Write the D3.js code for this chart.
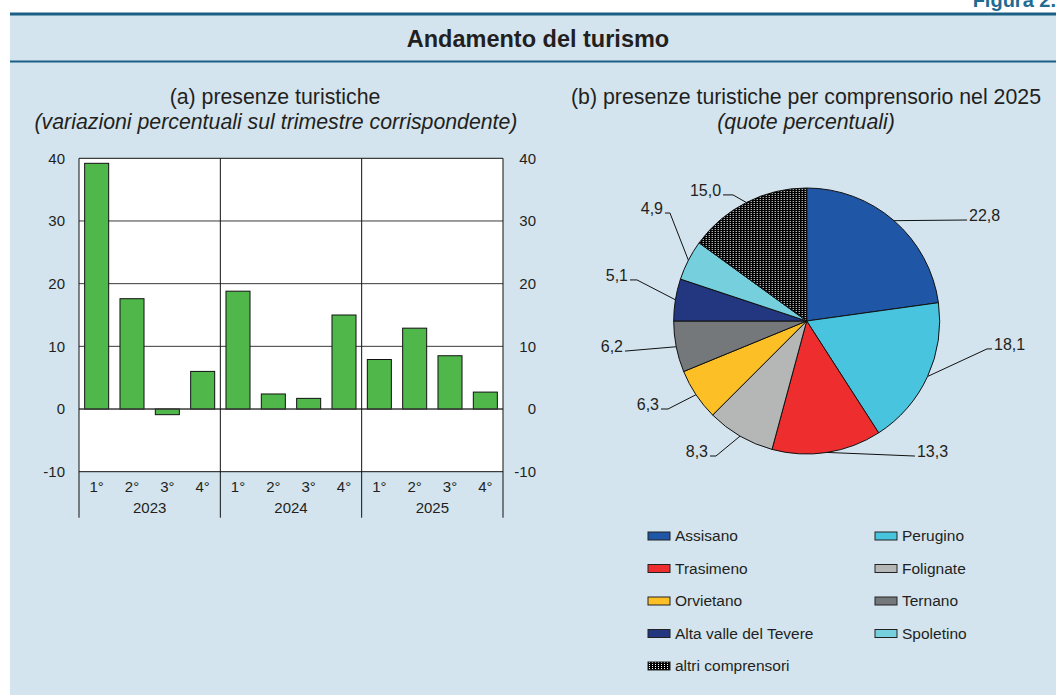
<!DOCTYPE html>
<html><head><meta charset="utf-8">
<script src="https://cdn.jsdelivr.net/npm/d3@7/dist/d3.min.js"></script>
<style>
html,body{margin:0;padding:0;background:#fff;}
svg{display:block;font-family:"Liberation Sans",Arial,sans-serif;}
</style></head>
<body><svg id="c" width="1056" height="695"></svg>
<script>
// ---------- data ----------
const quarters = ["1°","2°","3°","4°","1°","2°","3°","4°","1°","2°","3°","4°"];
const years = ["2023","2024","2025"];
const presenze = [39.2, 17.6, -0.9, 6.0, 18.8, 2.4, 1.7, 15.0, 7.9, 12.9, 8.5, 2.7];
const yTicks = [-10, 0, 10, 20, 30, 40];

const comprensori = ["Assisano","Perugino","Trasimeno","Folignate","Orvietano","Ternano","Alta valle del Tevere","Spoletino","altri comprensori"];
const quote = [22.8, 18.1, 13.3, 8.3, 6.3, 6.2, 5.1, 4.9, 15.0];
const quoteLabels = ["22,8","18,1","13,3","8,3","6,3","6,2","5,1","4,9","15,0"];
const sliceColors = ["#1f56a5","#48c4df","#ee2e2e","#b5b7b6","#fdbf26","#75787a","#233680","#76cfdc","url(#dots)"];
// label layout: [angle (deg, clockwise from top), radius factor, tail length]
const labelLayout = [[57.8,1.425,0],[98.8,1.372,5],[141.3,1.301,0],[213.9,1.223,6],[237.6,1.235,7],[260.6,1.385,0],[283.6,1.313,7],[308.3,1.31,5],[329.7,1.098,10]];
// legend order (indices into comprensori), two columns
const legendOrder = [0,1,2,3,4,5,6,7,8];

const svg = d3.select("#c");
const ink = "#231f20";

// ---------- panel ----------
svg.append("rect").attr("x",10).attr("y",13).attr("width",1046).attr("height",682).attr("fill","#d3e4ee");
svg.append("line").attr("x1",10).attr("x2",1056).attr("y1",14).attr("y2",14).attr("stroke","#1b5f85").attr("stroke-width",3);
svg.append("line").attr("x1",10).attr("x2",1056).attr("y1",61.5).attr("y2",61.5).attr("stroke","#1b5f85").attr("stroke-width",2);
svg.append("text").attr("x",1056).attr("y",7).attr("text-anchor","end").attr("font-size",20).attr("font-weight","bold").attr("fill","#1f6b92").text("Figura 2.");
svg.append("text").attr("x",538).attr("y",47).attr("text-anchor","middle").attr("font-size",23.5).attr("font-weight","bold").attr("fill",ink).text("Andamento del turismo");

// ---------- bar chart ----------
const L = 79, R = 503, T = 158.3, B = 471.7, axisBottom = 517.7;
const y = d3.scaleLinear().domain([-10,40]).range([B,T]);
const x = d3.scaleBand().domain(d3.range(quarters.length)).range([L,R]).paddingInner(0.32).paddingOuter(0.16);
const step = x.step();

svg.append("text").attr("x",275).attr("y",104).attr("text-anchor","middle").attr("font-size",21.3).attr("fill",ink).text("(a) presenze turistiche");
svg.append("text").attr("x",276).attr("y",129).attr("text-anchor","middle").attr("font-size",21.3).attr("font-style","italic").attr("fill",ink).text("(variazioni percentuali sul trimestre corrispondente)");

const g = svg.append("g");
g.append("rect").attr("x",L).attr("y",T).attr("width",R-L).attr("height",B-T).attr("fill","#fff");
// gridlines
g.selectAll("line.grid").data(yTicks.filter(d=>d>-10 && d<40)).join("line")
  .attr("x1",L).attr("x2",R).attr("y1",d=>y(d)).attr("y2",d=>y(d))
  .attr("stroke","#3a3a3a").attr("stroke-width",1);
// bars
g.selectAll("rect.bar").data(presenze).join("rect")
  .attr("x",(d,i)=>x(i)).attr("width",x.bandwidth())
  .attr("y",d=>y(Math.max(0,d))).attr("height",d=>Math.abs(y(d)-y(0)))
  .attr("fill","#50b84a").attr("stroke","#111").attr("stroke-width",1);
// zero line on top
g.append("line").attr("x1",L).attr("x2",R).attr("y1",y(0)).attr("y2",y(0)).attr("stroke","#3a3a3a").attr("stroke-width",1);
// borders
g.append("line").attr("x1",L).attr("x2",R).attr("y1",T).attr("y2",T).attr("stroke","#111");
g.append("line").attr("x1",L).attr("x2",R).attr("y1",B).attr("y2",B).attr("stroke","#111");
// vertical lines (year separators and edges)
g.selectAll("line.v").data(d3.range(years.length+1)).join("line")
  .attr("x1",d=>L+d*4*step).attr("x2",d=>L+d*4*step).attr("y1",T).attr("y2",axisBottom)
  .attr("stroke","#111").attr("stroke-width",1);
// y tick labels
g.selectAll("text.yl").data(yTicks).join("text")
  .attr("x",65).attr("y",d=>y(d)).attr("dy","0.35em").attr("text-anchor","end")
  .attr("font-size",15).attr("fill",ink).text(d=>d);
g.selectAll("text.yr").data(yTicks).join("text")
  .attr("x",536).attr("y",d=>y(d)).attr("dy","0.35em").attr("text-anchor","end")
  .attr("font-size",15).attr("fill",ink).text(d=>d);
// quarter labels
g.selectAll("text.q").data(quarters).join("text")
  .attr("x",(d,i)=>x(i)+x.bandwidth()/2).attr("y",487).attr("dy","0.35em").attr("text-anchor","middle")
  .attr("font-size",15).attr("fill",ink).text(d=>d);
g.selectAll("text.yr2").data(years).join("text")
  .attr("x",(d,i)=>L+(i*4+2)*step).attr("y",508).attr("dy","0.35em").attr("text-anchor","middle")
  .attr("font-size",15).attr("fill",ink).text(d=>d);

// ---------- pie ----------
const defs = svg.append("defs");
const pat = defs.append("pattern").attr("id","dots").attr("patternUnits","userSpaceOnUse").attr("width",3).attr("height",2);
pat.append("rect").attr("width",3).attr("height",2).attr("fill","#000");
pat.append("rect").attr("x",1).attr("y",0).attr("width",1).attr("height",1).attr("fill","#fff");

svg.append("text").attr("x",806).attr("y",104).attr("text-anchor","middle").attr("font-size",21.3).attr("fill",ink).text("(b) presenze turistiche per comprensorio nel 2025");
svg.append("text").attr("x",806).attr("y",129).attr("text-anchor","middle").attr("font-size",21.3).attr("font-style","italic").attr("fill",ink).text("(quote percentuali)");

const cx = 806.7, cy = 321, r = 133;
const pie = d3.pie().sort(null).value(d=>d);
const arcs = pie(quote);
const arc = d3.arc().innerRadius(0).outerRadius(r);
const pg = svg.append("g").attr("transform",`translate(${cx},${cy})`);
pg.selectAll("path").data(arcs).join("path")
  .attr("d",arc).attr("fill",(d,i)=>sliceColors[i]).attr("stroke","#111").attr("stroke-width",1);

const polar = (ang,rad)=>[Math.sin(ang)*rad, -Math.cos(ang)*rad];
arcs.forEach((a,i)=>{
  const mid = (a.startAngle+a.endAngle)/2;
  const p0 = polar(mid, r);
  const [ad, rf, tail] = labelLayout[i];
  const p1 = polar(ad*Math.PI/180, r*rf);
  const right = p1[0] > 0;
  const p2 = [p1[0] + (right? tail : -tail), p1[1]];
  pg.append("polyline").attr("points",[p0,p1,p2].map(p=>p.join(",")).join(" "))
    .attr("fill","none").attr("stroke","#111").attr("stroke-width",1);
  pg.append("text").attr("x",p2[0] + (right? 2 : -2)).attr("y",p2[1]+1)
    .attr("text-anchor",right? "start":"end").attr("font-size",16).attr("fill",ink).text(quoteLabels[i]);
});

// ---------- legend ----------
const colX = [648, 875], rowY0 = 536, rowH = 32.5;
const lg = svg.append("g");
legendOrder.forEach((k,j)=>{
  const col = j%2, row = Math.floor(j/2);
  const xx = colX[col], yy = rowY0 + row*rowH;
  lg.append("rect").attr("x",xx).attr("y",yy-4).attr("width",22).attr("height",8)
    .attr("fill",sliceColors[k]).attr("stroke","#222").attr("stroke-width",1);
  lg.append("text").attr("x",xx+27).attr("y",yy).attr("dy","0.35em").attr("font-size",15.5).attr("fill",ink).text(comprensori[k]);
});
</script></body></html>
